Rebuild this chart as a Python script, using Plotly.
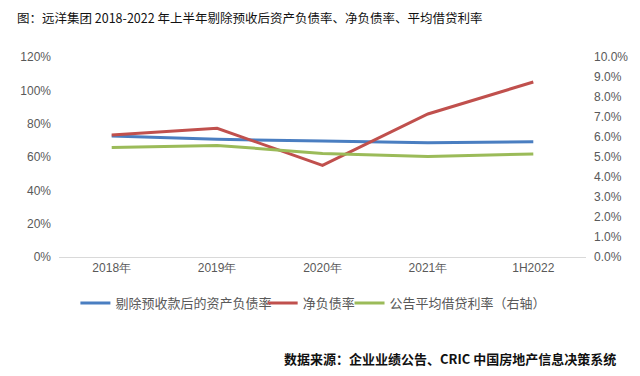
import plotly.graph_objects as go

categories = ["2018年", "2019年", "2020年", "2021年", "1H2022"]
debt_ratio_ex_adv = [0.726, 0.706, 0.696, 0.686, 0.692]
net_gearing = [0.732, 0.772, 0.550, 0.858, 1.050]
avg_borrow_rate = [0.0547, 0.0558, 0.0518, 0.0503, 0.0515]

names = ["剔除预收款后的资产负债率", "净负债率", "公告平均借贷利率（右轴）"]
colors = ["#4A7EC1", "#C0504D", "#9BBB59"]

fig = go.Figure()
fig.add_trace(go.Scatter(x=categories, y=debt_ratio_ex_adv, name=names[0], mode="lines",
                         line=dict(color=colors[0], width=3), legend="legend"))
fig.add_trace(go.Scatter(x=categories, y=net_gearing, name=names[1], mode="lines",
                         line=dict(color=colors[1], width=3), legend="legend2"))
fig.add_trace(go.Scatter(x=categories, y=avg_borrow_rate, name=names[2], mode="lines",
                         line=dict(color=colors[2], width=3), yaxis="y2", legend="legend3"))

tick_font = dict(family="Liberation Sans, Arial, sans-serif", size=12, color="#595959")
leg_font = dict(family="Noto Sans CJK SC", size=13, color="#595959")

W, H = 632, 368  # page body has an 8px offset inside the 640x376 window
PL, PW = 44, 546  # plot-area left edge and width in window pixels


def leg(line_start):
    return dict(orientation="h", x=(line_start - 20 - PL) / PW, xanchor="left",
                y=-0.23, yanchor="middle", font=leg_font, itemwidth=30,
                bgcolor="rgba(0,0,0,0)")


fig.update_layout(
    width=W, height=H,
    margin=dict(l=36, r=50, t=49, b=119),
    paper_bgcolor="white", plot_bgcolor="white",
    title=dict(text="图：远洋集团 2018-2022 年上半年剔除预收后资产负债率、净负债率、平均借贷利率",
               x=9 / W, xref="container", xanchor="left",
               y=1 - 11 / H, yref="container", yanchor="middle",
               font=dict(family="Noto Sans CJK SC", size=12.5, color="#111111")),
    xaxis=dict(type="category", range=[-0.5, 4.5], showgrid=False, showline=True,
               linecolor="#D9D9D9", linewidth=1, ticks="", tickfont=tick_font, zeroline=False),
    yaxis=dict(range=[0, 1.2], dtick=0.2, tickformat=".0%", showgrid=False, zeroline=False,
               showline=False, tickfont=tick_font, ticklabelstandoff=7),
    yaxis2=dict(range=[0, 0.1], dtick=0.01, tickformat=".1%", overlaying="y", side="right",
                showgrid=False, zeroline=False, showline=False, tickfont=tick_font,
                ticklabelstandoff=7),
    legend=leg(81),
    legend2=leg(275),
    legend3=leg(365),
    showlegend=True,
)

fig.add_annotation(text="<b>数据来源：企业业绩公告、CRIC 中国房地产信息决策系统</b>",
                   xref="paper", yref="paper", x=(623 - PL) / PW, y=-0.505,
                   xanchor="right", yanchor="middle", showarrow=False,
                   font=dict(family="Noto Sans CJK SC", size=13, color="#111111"))

fig.write_html("out.html")
